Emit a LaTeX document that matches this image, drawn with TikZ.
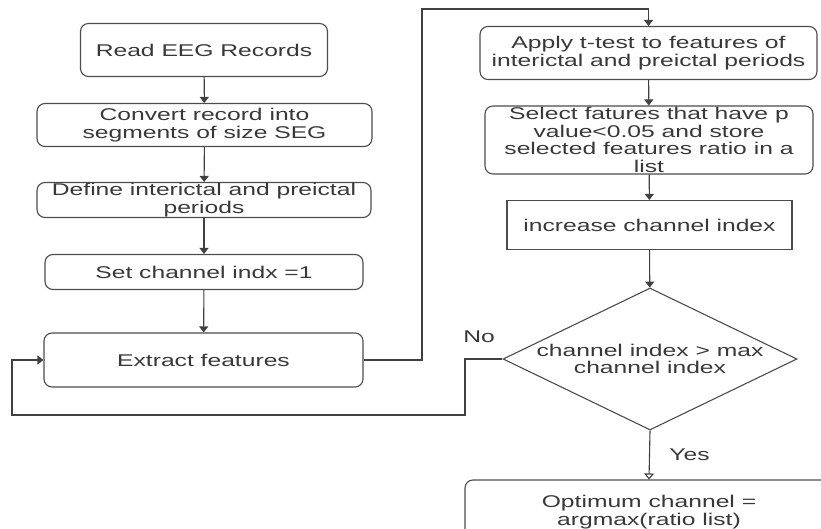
\documentclass[tikz,border=0pt]{standalone}
\usepackage{fontspec}
\setmainfont{Liberation Sans}[FakeStretch=1.45]
\usetikzlibrary{arrows.meta}
\usetikzlibrary{shapes.geometric}

\tikzset{
	box/.style={draw=black!70, line width=1.1pt, rounded corners=8pt, align=center, inner sep=0pt, text=black!78},
	sqbox/.style={box, rounded corners=0pt},
	dec/.style={draw=black!70, line width=1.1pt, diamond, aspect=2.07, inner sep=0pt, align=center, text=black!78},
}

\begin{document}
\begin{tikzpicture}[x=1pt, y=-1pt, line width=1.1pt, draw=black!75, arrows={-Triangle[length=6pt,width=9pt]}, font=\fontsize{17}{17.5}\selectfont]
	\useasboundingbox (0,0) rectangle (821,529);
	\clip (0,0) rectangle (821,529);

	\node [box, minimum width=247, minimum height=53] (read) at (204,50) {Read EEG Records};
	\node [box, minimum width=335, minimum height=43] (conv) at (204.5,125) {Convert record into\\segments of size SEG};
	\node [box, minimum width=334, minimum height=35] (periods) at (204,200) {Define interictal and preictal\\periods};
	\node [box, minimum width=318, minimum height=35] (setidx) at (204,272) {Set channel indx =1};
	\node [box, minimum width=319, minimum height=54] (extract) at (203.5,360) {Extract features};

	\node [box, minimum width=337, minimum height=53] (ttest) at (648.5,53) {Apply t-test to features of\\interictal and preictal periods};
	\node [box, minimum width=328, minimum height=68] (select) at (649,140) {Select fatures that have p\\value<0.05 and store\\selected features ratio in a\\list};
	\node [sqbox, minimum width=285, minimum height=49] (incr) at (649.5,225) {increase channel index};
	\node [dec, minimum width=294, minimum height=142] (check) at (650,359) {channel index > max\\channel index};
	\node [box, minimum width=368, minimum height=64] (best) at (649,512) {Optimum channel =\\argmax(ratio list)};

	\coordinate (up) at (422,9);
	\coordinate (nobend) at (465,415);
	\coordinate (back) at (12,415);

	\draw (read) -- (conv);
	\draw (conv) -- (periods);
	\draw (periods) -- (setidx);
	\draw (setidx) -- (extract);
	\draw (extract.east) -| (up) -| (ttest.north);
	\draw (ttest) -- (select);
	\draw (select) -- (incr);
	\draw (incr) -- (check);
	\draw (check.west) -| (nobend) -- (back) |- (extract.west);
	\draw [-{Triangle[open,length=6pt,width=10pt]}] (check.south) -- node [right, xshift=16pt, text=black!78] {Yes} (best.north);

	\node [text=black!78] (no) at (479,337) {No};
\end{tikzpicture}
\end{document}
